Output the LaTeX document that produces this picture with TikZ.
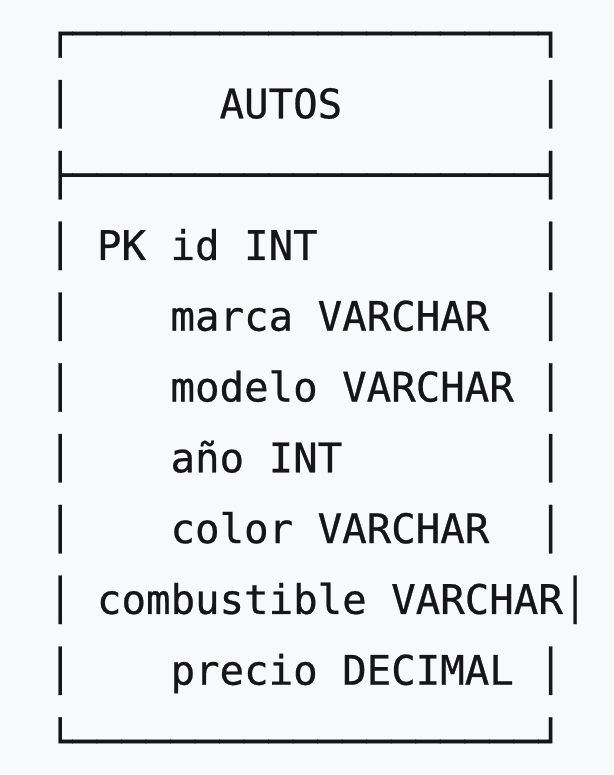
\documentclass[tikz,border=0pt]{standalone}
\usepackage{fontspec}
\newfontfamily\boxmono[FakeBold=0.6]{DejaVu Sans Mono}
\definecolor{bg}{RGB}{248,249,251}
\definecolor{ink}{RGB}{22,22,26}
\begin{document}
\begin{tikzpicture}[x=1pt,y=-1pt,
  txt/.style={anchor=base west, inner sep=0pt, outer sep=0pt, text=ink,
    font=\boxmono\fontsize{40.73}{49}\selectfont}]
\fill[bg] (0,0) rectangle (613,775);
\useasboundingbox (0,0) rectangle (613,775);
\def\cx#1{47.94+24.52*#1}
\def\ry#1{47.5+70.8*#1}
% row 0: top border
\node[txt] (top) at ({\cx{0}},{\ry{0}}) {┌───────────────────┐};
% row 1: title
\node[txt] (l1) at ({\cx{0}},{\ry{1}}) {│};
\node[txt] (title) at ({\cx{7}},{\ry{1}}) {AUTOS};
\node[txt] (r1) at ({\cx{20}},{\ry{1}}) {│};
% row 2: separator
\node[txt] (sep) at ({\cx{0}},{\ry{2}}) {├───────────────────┤};
% row 3
\node[txt] (l3) at ({\cx{0}},{\ry{3}}) {│};
\node[txt] (f1) at ({\cx{2}},{\ry{3}}) {PK id INT};
\node[txt] (r3) at ({\cx{20}},{\ry{3}}) {│};
% row 4
\node[txt] (l4) at ({\cx{0}},{\ry{4}}) {│};
\node[txt] (f2) at ({\cx{5}},{\ry{4}}) {marca VARCHAR};
\node[txt] (r4) at ({\cx{20}},{\ry{4}}) {│};
% row 5
\node[txt] (l5) at ({\cx{0}},{\ry{5}}) {│};
\node[txt] (f3) at ({\cx{5}},{\ry{5}}) {modelo VARCHAR};
\node[txt] (r5) at ({\cx{20}},{\ry{5}}) {│};
% row 6
\node[txt] (l6) at ({\cx{0}},{\ry{6}}) {│};
\node[txt] (f4) at ({\cx{5}},{\ry{6}}) {año INT};
\node[txt] (r6) at ({\cx{20}},{\ry{6}}) {│};
% row 7
\node[txt] (l7) at ({\cx{0}},{\ry{7}}) {│};
\node[txt] (f5) at ({\cx{5}},{\ry{7}}) {color VARCHAR};
\node[txt] (r7) at ({\cx{20}},{\ry{7}}) {│};
% row 8
\node[txt] (l8) at ({\cx{0}},{\ry{8}}) {│};
\node[txt] (f6) at ({\cx{2}},{\ry{8}}) {combustible VARCHAR};
\node[txt] (r8) at ({\cx{21}},{\ry{8}}) {│};
% row 9
\node[txt] (l9) at ({\cx{0}},{\ry{9}}) {│};
\node[txt] (f7) at ({\cx{5}},{\ry{9}}) {precio DECIMAL};
\node[txt] (r9) at ({\cx{20}},{\ry{9}}) {│};
% row 10: bottom border
\node[txt] (bot) at ({\cx{0}},{\ry{10}}) {└───────────────────┘};
\end{tikzpicture}
\end{document}
